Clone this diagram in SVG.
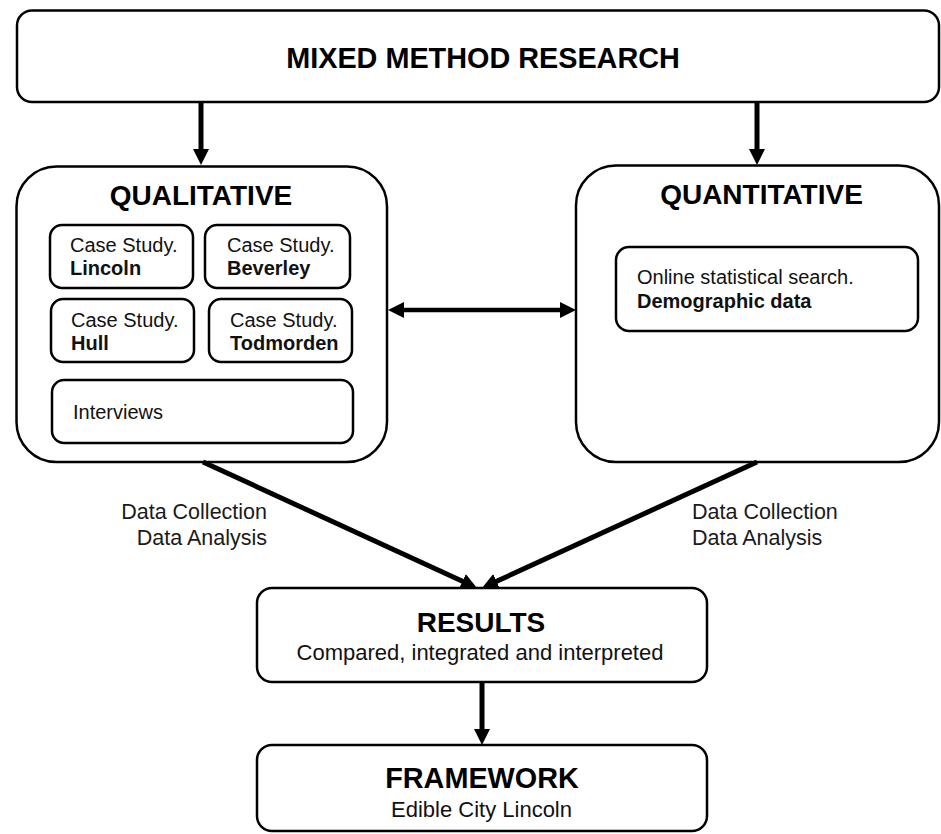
<svg xmlns="http://www.w3.org/2000/svg" width="941" height="834" viewBox="0 0 941 834">
  <style>
    .box { fill: #ffffff; stroke: #000000; stroke-width: 2.5; }
    .sub { fill: #ffffff; stroke: #000000; stroke-width: 2.5; }
    .title { font-family: "Liberation Sans", Arial, sans-serif; font-weight: bold; fill: #000000; }
    .txt { font-family: "Liberation Sans", Arial, sans-serif; font-size: 20px; fill: #111111; }
    .bold { font-weight: bold; }
    .lbl { font-family: "Liberation Sans", Arial, sans-serif; font-size: 21.5px; fill: #1a1a1a; }
    .conn { stroke: #000000; fill: none; }
  </style>
  <defs>
    <marker id="head" viewBox="0 0 16 16" refX="6" refY="8" markerWidth="16" markerHeight="16" markerUnits="userSpaceOnUse" orient="auto-start-reverse">
      <path d="M0,0 L16,8 L0,16 z" fill="#000000"/>
    </marker>
  </defs>

  <rect width="941" height="834" fill="#ffffff"/>

  <!-- top node -->
  <g id="mixed-method">
    <rect class="box" x="17" y="10.5" width="922" height="91.5" rx="15"/>
    <text class="title" x="483" y="68" font-size="28.8" text-anchor="middle">MIXED METHOD RESEARCH</text>
  </g>

  <!-- qualitative branch -->
  <g id="qualitative">
    <rect class="box" x="16.5" y="166.5" width="370.5" height="295.5" rx="40"/>
    <text class="title" x="201" y="205" font-size="28" text-anchor="middle">QUALITATIVE</text>
  </g>
  <g id="case-lincoln">
    <rect class="sub" x="50" y="225" width="143" height="63" rx="12"/>
    <text class="txt" x="70" y="252">Case Study.</text>
    <text class="txt bold" x="70" y="275">Lincoln</text>
  </g>
  <g id="case-beverley">
    <rect class="sub" x="205" y="225" width="145" height="63" rx="12"/>
    <text class="txt" x="227" y="252">Case Study.</text>
    <text class="txt bold" x="227" y="275">Beverley</text>
  </g>
  <g id="case-hull">
    <rect class="sub" x="51" y="299" width="143" height="63" rx="12"/>
    <text class="txt" x="71" y="327">Case Study.</text>
    <text class="txt bold" x="71" y="350">Hull</text>
  </g>
  <g id="case-todmorden">
    <rect class="sub" x="209" y="299" width="143" height="63" rx="12"/>
    <text class="txt" x="230" y="327">Case Study.</text>
    <text class="txt bold" x="230" y="350">Todmorden</text>
  </g>
  <g id="interviews">
    <rect class="sub" x="52" y="380" width="301" height="63" rx="12"/>
    <text class="txt" x="73" y="419">Interviews</text>
  </g>

  <!-- quantitative branch -->
  <g id="quantitative">
    <rect class="box" x="576" y="165.5" width="363" height="296.5" rx="40"/>
    <text class="title" x="761.5" y="204" font-size="28" text-anchor="middle">QUANTITATIVE</text>
  </g>
  <g id="demographic">
    <rect class="sub" x="616" y="247" width="302" height="84" rx="13"/>
    <text class="txt" x="637" y="284">Online statistical search.</text>
    <text class="txt bold" x="637" y="308">Demographic data</text>
  </g>

  <!-- results and framework -->
  <g id="results">
    <rect class="box" x="257" y="588" width="450" height="94" rx="15"/>
    <text class="title" x="481" y="632" font-size="28" text-anchor="middle">RESULTS</text>
    <text class="txt" x="480" y="660" font-size="22" text-anchor="middle" style="font-size:22px">Compared, integrated and interpreted</text>
  </g>
  <g id="framework">
    <rect class="box" x="257" y="745" width="450" height="86" rx="15"/>
    <text class="title" x="482" y="788" font-size="28.8" text-anchor="middle">FRAMEWORK</text>
    <text class="txt" x="481.5" y="817" text-anchor="middle" style="font-size:22px">Edible City Lincoln</text>
  </g>

  <!-- connectors -->
  <g id="connectors">
    <line class="conn" x1="201" y1="102" x2="201" y2="155" stroke-width="5" marker-end="url(#head)"/>
    <line class="conn" x1="757" y1="102" x2="757" y2="155" stroke-width="5" marker-end="url(#head)"/>
    <line class="conn" x1="398" y1="310" x2="566" y2="310" stroke-width="4.5" marker-start="url(#head)" marker-end="url(#head)"/>
    <line class="conn" x1="203" y1="462" x2="467.9" y2="583.8" stroke-width="5" marker-end="url(#head)"/>
    <line class="conn" x1="757" y1="462" x2="491.1" y2="583.8" stroke-width="5" marker-end="url(#head)"/>
    <line class="conn" x1="482" y1="682" x2="482" y2="735" stroke-width="5" marker-end="url(#head)"/>
  </g>

  <!-- connector labels -->
  <g id="labels">
    <text class="lbl" x="267" y="519" text-anchor="end">Data Collection</text>
    <text class="lbl" x="267" y="545" text-anchor="end">Data Analysis</text>
    <text class="lbl" x="692" y="519">Data Collection</text>
    <text class="lbl" x="692" y="545">Data Analysis</text>
  </g>
</svg>
